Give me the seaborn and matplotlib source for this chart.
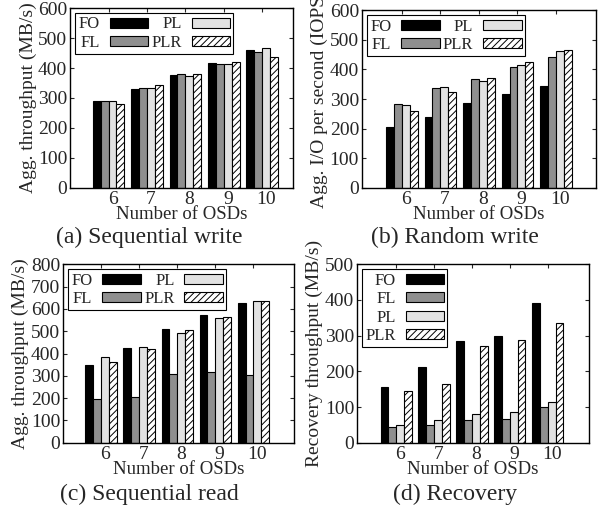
import numpy as np
import pandas as pd
import matplotlib
matplotlib.use("Agg")
import matplotlib.pyplot as plt
from matplotlib.transforms import ScaledTranslation
import seaborn as sns

# data
osds = ["6", "7", "8", "9", "10"]
schemes = ["FO", "FL", "PL", "PLR"]

seq_write = {"FO": [291, 330, 377, 417, 460],
             "FL": [290, 334, 381, 412, 455],
             "PL": [289, 334, 372, 414, 466],
             "PLR": [280, 343, 380, 421, 437]}
rand_write = {"FO": [205, 238, 287, 317, 344],
              "FL": [283, 336, 367, 409, 443],
              "PL": [280, 340, 362, 414, 461],
              "PLR": [260, 322, 370, 424, 465]}
seq_read = {"FO": [350, 425, 508, 572, 627],
            "FL": [195, 207, 307, 318, 302],
            "PL": [383, 430, 492, 560, 635],
            "PLR": [363, 418, 503, 565, 633]}
recovery = {"FO": [155, 211, 284, 300, 390],
            "FL": [43, 51, 63, 68, 100],
            "PL": [51, 64, 82, 86, 113],
            "PLR": [146, 164, 270, 287, 336]}

colors = ["black", "#8f8f8f", "#e2e2e2", "white"]

sns.set_style("ticks")
plt.rcParams["font.family"] = ["Liberation Serif", "DejaVu Serif"]
plt.rcParams["hatch.linewidth"] = 0.7


def long_df(d):
    rows = []
    for s in schemes:
        for x, v in zip(osds, d[s]):
            rows.append({"osd": x, "scheme": s, "value": v})
    return pd.DataFrame(rows)


fig = plt.figure(figsize=(5.99, 5.09), dpi=100)

panels = [
    (seq_write, [0.117, 0.631, 0.372, 0.353], (0, 600), 100, (-1.0, 4.8),
     "Agg. throughput (MB/s)", "(a) Sequential write", (0.25, 0.513), 2),
    (rand_write, [0.604, 0.631, 0.391, 0.349], (0, 600), 100, (-1.04, 5.04),
     "Agg. I/O per second (IOPS)", "(b) Random write", (0.76, 0.513), 2),
    (seq_read, [0.105, 0.130, 0.386, 0.351], (0, 800), 100, (-1.0, 5.07),
     "Agg. throughput (MB/s)", "(c) Sequential read", (0.25, 0.008), 2),
    (recovery, [0.596, 0.130, 0.387, 0.351], (0, 500), 100, (-1.03, 5.08),
     "Recovery throughput (MB/s)", "(d) Recovery", (0.76, 0.008), 1),
]

for data, pos, ylim, ystep, xlim, ylabel, title, tpos, ncol in panels:
    ax = fig.add_axes(pos)
    df = long_df(data)
    sns.barplot(data=df, x="osd", y="value", hue="scheme", order=osds,
                hue_order=schemes, palette=colors, width=0.82,
                edgecolor="black", linewidth=0.8, legend=False, ax=ax)
    for bar in ax.containers[3]:
        bar.set_facecolor("white")
        bar.set_hatch("/////")
    ax.set_ylim(*ylim)
    ax.set_xlim(*xlim)
    ax.set_yticks(np.arange(ylim[0], ylim[1] + 1, ystep))
    ax.tick_params(direction="in", top=True, right=True, length=3,
                   labelsize=14, pad=2, width=0.8)
    for lab in ax.get_xticklabels():
        lab.set_transform(lab.get_transform() +
                          ScaledTranslation(3 / 72, 0, fig.dpi_scale_trans))
    for sp in ax.spines.values():
        sp.set_linewidth(1.0)
        sp.set_color("black")
    ax.set_xlabel("Number of OSDs", fontsize=13.5, labelpad=-1)
    ax.set_ylabel(ylabel, fontsize=14, labelpad=1)
    leg = ax.legend(ax.containers, schemes, ncol=ncol, loc="upper left",
                    markerfirst=False, fontsize=12, frameon=True,
                    fancybox=False, framealpha=1, edgecolor="black",
                    handlelength=2.3, handleheight=0.55, handletextpad=0.6,
                    columnspacing=0.2, labelspacing=0.15, borderpad=0.2,
                    borderaxespad=0.3)
    leg.get_frame().set_linewidth(0.8)
    fig.text(tpos[0], tpos[1], title, fontsize=17, ha="center", va="bottom")

fig.savefig("out.png", dpi=100)
